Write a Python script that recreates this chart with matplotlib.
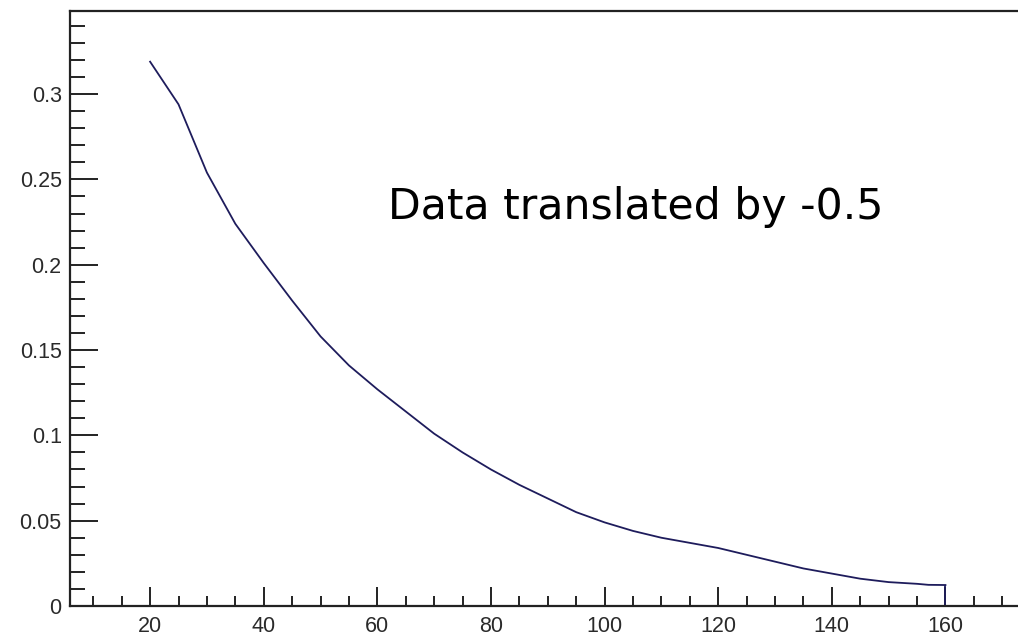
import matplotlib
matplotlib.use("Agg")
import matplotlib.pyplot as plt
from matplotlib.ticker import MultipleLocator, FixedLocator

# Distribution after translation, sampled every 5 units
x_vals = [20, 25, 30, 35, 40, 45, 50, 55, 60, 65, 70, 75, 80, 85, 90, 95,
          100, 105, 110, 115, 120, 125, 130, 135, 140, 145, 150, 155, 157, 160]
y_vals = [0.319, 0.294, 0.254, 0.224, 0.201, 0.179, 0.158, 0.141, 0.127,
          0.114, 0.101, 0.090, 0.080, 0.071, 0.063, 0.055, 0.049, 0.044,
          0.040, 0.037, 0.034, 0.030, 0.026, 0.022, 0.019, 0.016, 0.014,
          0.013, 0.0124, 0.0123]

y_ticks = [0, 0.05, 0.1, 0.15, 0.2, 0.25, 0.3]
y_tick_labels = ["0", "0.05", "0.1", "0.15", "0.2", "0.25", "0.3"]
x_ticks = [20, 40, 60, 80, 100, 120, 140, 160]
x_tick_labels = ["20", "40", "60", "80", "100", "120", "140", "160"]
annotation = "Data translated by -0.5"

W, H = 1018, 636
fig = plt.figure(figsize=(W / 100, H / 100), dpi=100)
fig.patch.set_facecolor("white")

# axes box in pixel units (extends slightly past the right edge)
left_px, right_px, top_px, bottom_px = 70, 1025, 10.5, 606
ax = fig.add_axes([left_px / W, (H - bottom_px) / H,
                   (right_px - left_px) / W, (bottom_px - top_px) / H])

ax.plot(x_vals, y_vals, color="#1e1c5c", lw=1.3, solid_joinstyle="miter")
ax.vlines(x_vals[-1], 0, y_vals[-1], color="#1e1c5c", lw=1.3)

ax.set_xlim(5.9, 174)
ax.set_ylim(0, 0.349)

for s in ax.spines.values():
    s.set_linewidth(1.6)
    s.set_color("#222222")

ax.yaxis.set_major_locator(FixedLocator(y_ticks))
ax.set_yticklabels(y_tick_labels)
ax.yaxis.set_minor_locator(MultipleLocator(0.01))
ax.xaxis.set_major_locator(FixedLocator(x_ticks))
ax.set_xticklabels(x_tick_labels)
ax.xaxis.set_minor_locator(MultipleLocator(5))

for lab in ax.get_xticklabels() + ax.get_yticklabels():
    lab.set_fontfamily(["Liberation Sans", "DejaVu Sans"])
    lab.set_fontsize(15.5)
    lab.set_color("#2a2a2a")

ax.tick_params(axis="y", which="major", direction="in", length=20,
               width=1.4, color="#222222", pad=6)
ax.tick_params(axis="y", which="minor", direction="in", length=11,
               width=1.4, color="#222222")
ax.tick_params(axis="x", which="major", direction="in", length=14,
               width=1.4, color="#222222", pad=7)
ax.tick_params(axis="x", which="minor", direction="in", length=7.5,
               width=1.4, color="#222222")

ax.text(388 / W, (H - 219) / H, annotation, transform=fig.transFigure,
        fontsize=30.7, family="DejaVu Sans", color="black",
        ha="left", va="baseline")

fig.savefig("out.png", dpi=100, facecolor="white")
